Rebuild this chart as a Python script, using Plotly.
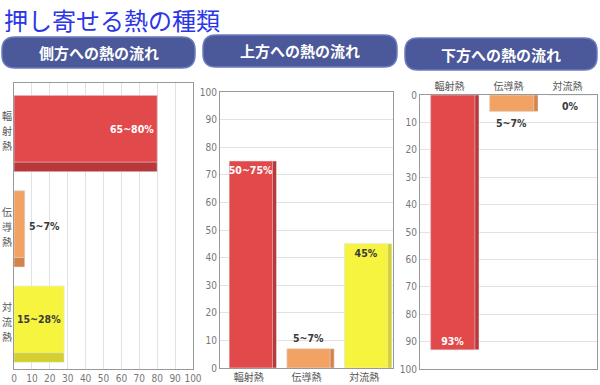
import plotly.graph_objects as go

# ---------------- data ----------------
title_text = "押し寄せる熱の種類"
panel_titles = ["側方への熱の流れ", "上方への熱の流れ", "下方への熱の流れ"]
categories = ["輻射熱", "伝導熱", "対流熱"]
side_values = [80, 6, 28]
side_labels = ["65~80%", "5~7%", "15~28%"]
up_values = [75, 7, 45]
up_labels = ["50~75%", "5~7%", "45%"]
down_values = [93, 6, 0]
down_labels = ["93%", "5~7%", "0%"]
axis_ticks = list(range(0, 101, 10))

# ---------------- style ----------------
W, H = 600, 385
light = ["#e2494b", "#f2a263", "#f6f43e"]
dark = ["#b9383a", "#d4834a", "#d2cf2e"]
txtcol = ["white", "#3a3a3a", "#3a3a3a"]
NUM_FONT = "DejaVu Sans Condensed, Liberation Sans Narrow, DejaVu Sans, sans-serif"
JP_FONT = "Noto Sans CJK JP"

def px(x):
    return x / W

def py(y):
    return 1 - y / H

def pill(x0, y0, x1, y1, r):
    return (f"M {px(x0+r)},{py(y0)} L {px(x1-r)},{py(y0)} "
            f"Q {px(x1)},{py(y0)} {px(x1)},{py(y0+r)} L {px(x1)},{py(y1-r)} "
            f"Q {px(x1)},{py(y1)} {px(x1-r)},{py(y1)} L {px(x0+r)},{py(y1)} "
            f"Q {px(x0)},{py(y1)} {px(x0)},{py(y1-r)} L {px(x0)},{py(y0+r)} "
            f"Q {px(x0)},{py(y0)} {px(x0+r)},{py(y0)} Z")

def label_font(cols):
    return dict(color=cols, size=10.5, family=NUM_FONT)

fig = go.Figure()

# ---- left: side (horizontal bars) ----
fig.add_trace(go.Bar(y=categories, x=side_values, orientation="h", marker_color=dark,
                     width=0.8, offset=-0.37, xaxis="x", yaxis="y", hoverinfo="skip"))
fig.add_trace(go.Bar(y=categories, x=side_values, orientation="h", marker_color=light,
                     width=0.7, offset=-0.37, xaxis="x", yaxis="y",
                     text=[side_labels[0], "", side_labels[2]], textposition="inside",
                     insidetextanchor="end", textangle=0, constraintext="none",
                     texttemplate="<b>%{text}</b>",
                     insidetextfont=label_font(txtcol)))

# ---- middle: upward ----
fig.add_trace(go.Bar(x=categories, y=up_values, marker_color=dark, width=0.82, offset=-0.34,
                     xaxis="x2", yaxis="y2", hoverinfo="skip"))
fig.add_trace(go.Bar(x=categories, y=up_values, marker_color=light, width=0.75, offset=-0.34,
                     xaxis="x2", yaxis="y2", text=[up_labels[0], "", up_labels[2]],
                     textposition="inside", insidetextanchor="end", textangle=0,
                     constraintext="none", texttemplate="<b>%{text}</b>",
                     insidetextfont=label_font(txtcol)))

# ---- right: downward ----
fig.add_trace(go.Bar(x=categories, y=down_values, marker_color=dark, width=0.82, offset=-0.32,
                     xaxis="x3", yaxis="y3", hoverinfo="skip"))
fig.add_trace(go.Bar(x=categories, y=down_values, marker_color=light, width=0.75, offset=-0.32,
                     xaxis="x3", yaxis="y3", text=[down_labels[0], "", ""],
                     textposition="inside", insidetextanchor="end", textangle=0,
                     constraintext="none", texttemplate="<b>%{text}</b>",
                     insidetextfont=label_font(txtcol)))

tickfont = dict(family=NUM_FONT, size=10, color="#777")
catfont = dict(family=JP_FONT, size=10, color="#555")
axline = dict(showline=True, linecolor="#999", linewidth=1, mirror=True, zeroline=False,
              automargin=False)
grid = dict(showgrid=True, gridcolor="#e2e2e2", gridwidth=1)

fig.update_layout(
    width=W, height=H, margin=dict(l=0, r=0, t=0, b=0, autoexpand=False),
    paper_bgcolor="white", plot_bgcolor="white", showlegend=False,
    barmode="overlay", bargap=0.2,
    xaxis=dict(domain=[px(14), px(193)], anchor="y", range=[0, 100], tickvals=axis_ticks,
               tickfont=tickfont, **grid, **axline),
    yaxis=dict(domain=[py(369), py(83)], anchor="x", autorange="reversed",
               categoryorder="array", categoryarray=categories, showticklabels=False,
               showgrid=False, ticks="", **axline),
    xaxis2=dict(domain=[px(220), px(393)], anchor="y2", tickfont=catfont, showgrid=False, **axline),
    yaxis2=dict(domain=[py(368), py(92)], anchor="x2", range=[0, 100], tickvals=axis_ticks,
                tickfont=tickfont, **grid, **axline),
    xaxis3=dict(domain=[px(420), px(597)], anchor="y3", side="top", tickfont=catfont,
                showgrid=False, **axline),
    yaxis3=dict(domain=[py(369), py(95)], anchor="x3", range=[100, 0], tickvals=axis_ticks,
                tickfont=tickfont, **grid, **axline),
)

pills = [(2, 37, 195, 68), (203, 35, 397, 67), (405, 38, 597, 70)]
shapes = []
annotations = [dict(text=title_text, x=px(2), y=py(0), xref="paper", yref="paper",
                    xanchor="left", yanchor="top", showarrow=False,
                    font=dict(family=JP_FONT, size=24, color="#2b36e6"))]
for (x0, y0, x1, y1), t in zip(pills, panel_titles):
    shapes.append(dict(type="path", path=pill(x0, y0, x1, y1, 13), xref="paper", yref="paper",
                       fillcolor="#4b5899", line=dict(color="#6c7ac0", width=1.5), layer="below"))
    annotations.append(dict(text=f"<b>{t}</b>", x=px((x0 + x1) / 2), y=py((y0 + y1) / 2),
                            xref="paper", yref="paper", xanchor="center", yanchor="middle",
                            showarrow=False, font=dict(family=JP_FONT, size=15, color="white")))

# vertical (stacked) category labels for the side chart
for cat in categories:
    n = len(cat)
    for j, ch in enumerate(cat):
        annotations.append(dict(text=ch, x=px(7), y=cat, xref="paper", yref="y",
                                xanchor="center", yanchor="middle",
                                yshift=((n - 1) / 2 - j) * 15, showarrow=False,
                                font=dict(family=JP_FONT, size=10, color="#555")))

# outside labels (small bars), placed through the data axes
outfont = dict(family=NUM_FONT, size=10.5, color="#3a3a3a")
annotations += [
    dict(text=f"<b>{side_labels[1]}</b>", x=side_values[1], y=categories[1], xref="x", yref="y",
         xanchor="left", yanchor="middle", xshift=2, showarrow=False, font=outfont),
    dict(text=f"<b>{up_labels[1]}</b>", x=categories[1], y=up_values[1], xref="x2", yref="y2",
         xanchor="center", yanchor="bottom", xshift=2, yshift=3, showarrow=False, font=outfont),
    dict(text=f"<b>{down_labels[1]}</b>", x=categories[1], y=down_values[1], xref="x3", yref="y3",
         xanchor="center", yanchor="top", xshift=3, yshift=-4, showarrow=False, font=outfont),
    dict(text=f"<b>{down_labels[2]}</b>", x=categories[2], y=down_values[2], xref="x3", yref="y3",
         xanchor="center", yanchor="top", xshift=3, yshift=-3, showarrow=False, font=outfont),
]
fig.update_layout(shapes=shapes, annotations=annotations)

fig.write_html("out.html", config={"displayModeBar": False},
               post_script="document.body.style.margin='0';")
